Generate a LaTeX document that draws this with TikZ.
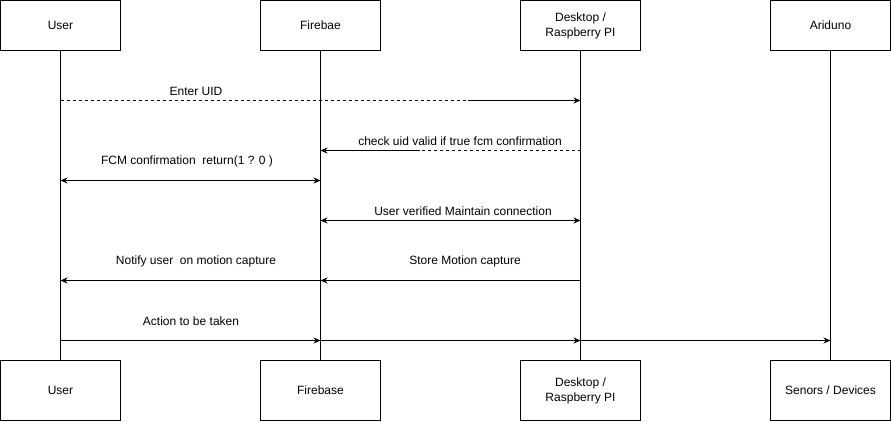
\documentclass[tikz,border=0pt]{standalone}
\usepackage{fontspec}
\setmainfont{Liberation Sans}
\usetikzlibrary{arrows.meta}
\begin{document}
\begin{tikzpicture}[x=1pt,y=-1pt,
    actor/.style={draw,line width=0.8pt,minimum width=120pt,minimum height=50pt,
                  align=center,inner sep=0pt,font=\fontsize{12}{15}\selectfont},
    lbl/.style={inner sep=0pt,font=\fontsize{12}{14}\selectfont},
    msg/.style={line width=0.8pt,-{Stealth[length=7pt,width=6pt]}},
    both/.style={line width=0.8pt,{Stealth[length=7pt,width=6pt]}-{Stealth[length=7pt,width=6pt]}}]
    \useasboundingbox (0,0) rectangle (891,421);
    \node[actor] (user)  at (60.5,25.5)  {User};
    \node[actor] (fb)    at (320.5,25.5) {Firebae};
    \node[actor] (pi)    at (580.5,25.5) {Desktop /\\Raspberry PI};
    \node[actor] (ard)   at (830.5,25.5) {Ariduno};
    \node[actor,minimum height=60pt] (userB) at (60.5,390.5)  {User};
    \node[actor,minimum height=60pt] (fbB)   at (320.5,390.5) {Firebase};
    \node[actor,minimum height=60pt] (piB)   at (580.5,390.5) {Desktop /\\Raspberry PI};
    \node[actor,minimum height=60pt] (ardB)  at (830.5,390.5) {Senors / Devices};
    \draw[line width=0.8pt] (user) -- (userB)
                            (fb) -- (fbB)
                            (pi) -- (piB)
                            (ard) -- (ardB);
    \coordinate (uidMid) at (468,100.5);
    \draw[line width=0.8pt,style=dashed] (user |- uidMid) -- (uidMid);
    \draw[msg] (uidMid) -- (pi |- uidMid);
    \node[lbl] (uidTxt) at (196,91) {Enter UID};
    \coordinate (chkMid) at (420,150.5);
    \draw[line width=0.8pt,style=dashed] (pi |- chkMid) -- (chkMid);
    \draw[msg] (chkMid) -- (fb |- chkMid);
    \node[lbl] (chkTxt) at (460,141) {check uid valid if true fcm confirmation};
    \coordinate (fcmY) at (0,180.5);
    \draw[both] (user |- fcmY) -- (fb |- fcmY);
    \node[lbl] (fcmTxt) at (187,161) {FCM confirmation\ \ return(1 ? 0 )};
    \coordinate (verY) at (0,220.5);
    \draw[both] (fb |- verY) -- (pi |- verY);
    \node[lbl] (verTxt) at (463,211) {User verified Maintain connection};
    \coordinate (motY) at (0,280.5);
    \draw[msg] (pi |- motY) -- (fb |- motY);
    \draw[msg] (fb |- motY) -- (user |- motY);
    \node[lbl] (storeTxt) at (465,261) {Store Motion capture};
    \node[lbl] (notifyTxt) at (196,261) {Notify user\ \ on motion capture};
    \coordinate (actY) at (0,340.5);
    \draw[msg] (user |- actY) -- (fb |- actY);
    \draw[msg] (fb |- actY) -- (pi |- actY);
    \draw[msg] (pi |- actY) -- (ard |- actY);
    \node[lbl] (actTxt) at (191,321) {Action to be taken};
\end{tikzpicture}
\end{document}
